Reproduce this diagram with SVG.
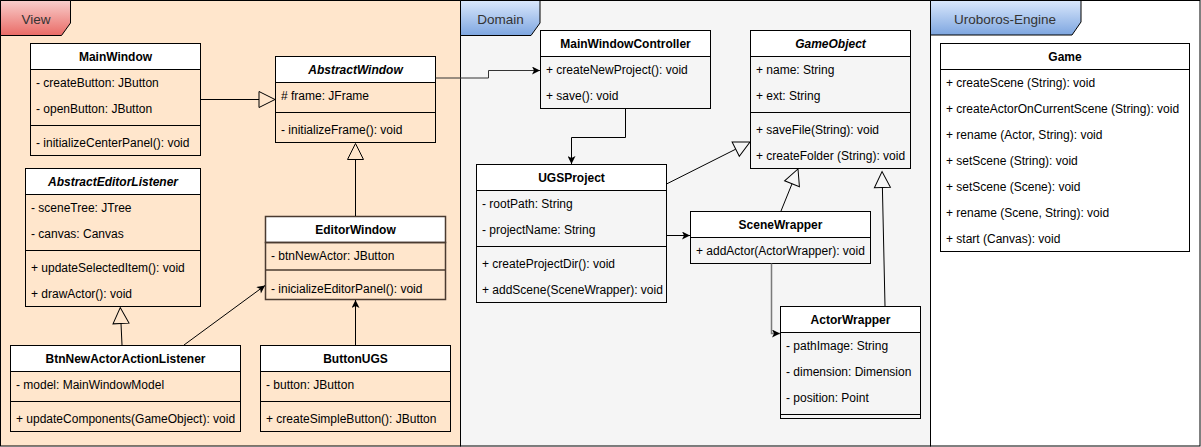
<svg xmlns="http://www.w3.org/2000/svg" width="1201" height="447" viewBox="0 0 1201 447">
<defs>
<linearGradient id="gRed" x1="0" y1="0" x2="0" y2="1"><stop offset="0" stop-color="#f8cecc"/><stop offset="1" stop-color="#ea6b66"/></linearGradient>
<linearGradient id="gBlue" x1="0" y1="0" x2="0" y2="1"><stop offset="0" stop-color="#dae8fc"/><stop offset="1" stop-color="#7ea6e0"/></linearGradient>
<marker id="arr" markerUnits="userSpaceOnUse" viewBox="0 0 10 10" refX="10" refY="5" markerWidth="9" markerHeight="8" orient="auto"><path d="M0,0 L10,5 L0,10 L2.5,5 z" fill="#000"/></marker>
<marker id="arrG" markerUnits="userSpaceOnUse" viewBox="0 0 10 10" refX="10" refY="5" markerWidth="9" markerHeight="8" orient="auto"><path d="M0,0 L10,5 L0,10 L2.5,5 z" fill="#000"/></marker>
<marker id="gen" markerUnits="userSpaceOnUse" viewBox="-1 -1 18 18" refX="0" refY="8" markerWidth="18" markerHeight="18" orient="auto" overflow="visible"><path d="M0,0 L16,8 L0,16 z" fill="none" stroke="#000" stroke-width="1"/></marker>
</defs>
<style>
.frame{stroke:#000;stroke-width:1}
.tab{stroke:#000;stroke-width:1}
.ft{font-family:"Liberation Sans",Arial,sans-serif;font-size:13.5px;fill:#333;text-anchor:middle}
.hd{fill:#fff;stroke:#000;stroke-width:1}
.bd{fill:none;stroke:#000;stroke-width:1}
.dv{stroke:#000;stroke-width:1}
.h{font-family:"Liberation Sans",Arial,sans-serif;font-size:12px;font-weight:bold;fill:#000;text-anchor:middle}
.hi{font-style:italic}
.r{font-family:"Liberation Sans",Arial,sans-serif;font-size:12px;fill:#000}
.ew{stroke:#4a3b30;stroke-width:1.5}
.c{fill:none;stroke:#000;stroke-width:1}
</style>

<g id="frame-view">
<rect class="frame" x="0.5" y="0.5" width="460" height="445.5" fill="#ffe6cc"/>
<path class="tab" d="M0.5,0.5 H70.5 V23 L61.5,35.5 H0.5 Z" fill="url(#gRed)"/>
<text class="ft" x="36" y="24">View</text>
</g>
<g id="frame-domain">
<rect class="frame" x="460.5" y="0.5" width="470" height="445.5" fill="#f5f5f5"/>
<path class="tab" d="M460.5,0.5 H540 V23 L531,35.5 H460.5 Z" fill="url(#gBlue)"/>
<text class="ft" x="500.5" y="24">Domain</text>
</g>
<g id="frame-uroboros">
<rect class="frame" x="930.5" y="0.5" width="269.5" height="445.5" fill="#fff"/>
<path class="tab" d="M930.5,0.5 H1081 V22 L1072,35 H930.5 Z" fill="url(#gBlue)"/>
<text class="ft" x="1005" y="24">Uroboros-Engine</text>
</g>

<g id="MainWindow">
<rect class="hd" x="30.5" y="43.5" width="170" height="26"/>
<rect class="bd" x="30.5" y="69.5" width="170" height="86"/>
<line class="dv" x1="30.5" y1="125.5" x2="200.5" y2="125.5"/>
<text class="h" x="115.5" y="61">MainWindow</text>
<text class="r" x="36" y="87">- createButton: JButton</text>
<text class="r" x="36" y="113">- openButton: JButton</text>
<text class="r" x="36" y="147">- initializeCenterPanel(): void</text>
</g>

<g id="AbstractWindow">
<rect class="hd" x="275.5" y="56.5" width="160" height="26"/>
<rect class="bd" x="275.5" y="82.5" width="160" height="60"/>
<line class="dv" x1="275.5" y1="112.5" x2="435.5" y2="112.5"/>
<text class="h hi" x="355.5" y="74">AbstractWindow</text>
<text class="r" x="281" y="100"># frame: JFrame</text>
<text class="r" x="281" y="134">- initializeFrame(): void</text>
</g>

<g id="AbstractEditorListener">
<rect class="hd" x="25.5" y="168.5" width="175" height="26"/>
<rect class="bd" x="25.5" y="194.5" width="175" height="112"/>
<line class="dv" x1="25.5" y1="250.5" x2="200.5" y2="250.5"/>
<text class="h hi" x="113" y="186">AbstractEditorListener</text>
<text class="r" x="31" y="212">- sceneTree: JTree</text>
<text class="r" x="31" y="238">- canvas: Canvas</text>
<text class="r" x="31" y="272">+ updateSelectedItem(): void</text>
<text class="r" x="31" y="298">+ drawActor(): void</text>
</g>

<g id="EditorWindow">
<rect x="265.5" y="216.5" width="180" height="26" fill="#fff" class="ew"/>
<rect x="265.5" y="242.5" width="180" height="57" fill="none" class="ew"/>
<line class="ew" x1="265.5" y1="270" x2="445.5" y2="270" stroke-width="2"/>
<text class="h" x="355.5" y="234">EditorWindow</text>
<text class="r" x="271" y="260">- btnNewActor: JButton</text>
<text class="r" x="271" y="293">- inicializeEditorPanel(): void</text>
</g>

<g id="BtnNewActorActionListener">
<rect class="hd" x="10.5" y="345.5" width="230" height="26"/>
<rect class="bd" x="10.5" y="371.5" width="230" height="60"/>
<line class="dv" x1="10.5" y1="401.5" x2="240.5" y2="401.5"/>
<text class="h" x="125.5" y="363">BtnNewActorActionListener</text>
<text class="r" x="16" y="389">- model: MainWindowModel</text>
<text class="r" x="16" y="423">+ updateComponents(GameObject): void</text>
</g>

<g id="ButtonUGS">
<rect class="hd" x="260.5" y="345.5" width="190" height="26"/>
<rect class="bd" x="260.5" y="371.5" width="190" height="60"/>
<line class="dv" x1="260.5" y1="401.5" x2="450.5" y2="401.5"/>
<text class="h" x="355.5" y="363">ButtonUGS</text>
<text class="r" x="266" y="389">- button: JButton</text>
<text class="r" x="266" y="423">+ createSimpleButton(): JButton</text>
</g>

<g id="MainWindowController">
<rect class="hd" x="540.5" y="30.5" width="170" height="26"/>
<rect class="bd" x="540.5" y="56.5" width="170" height="52"/>
<text class="h" x="625.5" y="48">MainWindowController</text>
<text class="r" x="546" y="74">+ createNewProject(): void</text>
<text class="r" x="546" y="100">+ save(): void</text>
</g>

<g id="GameObject">
<rect class="hd" x="750.5" y="30.5" width="160" height="26"/>
<rect class="bd" x="750.5" y="56.5" width="160" height="112"/>
<line class="dv" x1="750.5" y1="112.5" x2="910.5" y2="112.5"/>
<text class="h hi" x="830.5" y="48">GameObject</text>
<text class="r" x="756" y="74">+ name: String</text>
<text class="r" x="756" y="100">+ ext: String</text>
<text class="r" x="756" y="134">+ saveFile(String): void</text>
<text class="r" x="756" y="160">+ createFolder (String): void</text>
</g>

<g id="UGSProject">
<rect class="hd" x="476.5" y="164.5" width="190" height="26"/>
<rect class="bd" x="476.5" y="190.5" width="190" height="112"/>
<line class="dv" x1="476.5" y1="246.5" x2="666.5" y2="246.5"/>
<text class="h" x="571.5" y="182">UGSProject</text>
<text class="r" x="482" y="208">- rootPath: String</text>
<text class="r" x="482" y="234">- projectName: String</text>
<text class="r" x="482" y="268">+ createProjectDir(): void</text>
<text class="r" x="482" y="294">+ addScene(SceneWrapper): void</text>
</g>

<g id="SceneWrapper">
<rect class="hd" x="690.5" y="211.5" width="180" height="26"/>
<rect class="bd" x="690.5" y="237.5" width="180" height="26"/>
<text class="h" x="780.5" y="229">SceneWrapper</text>
<text class="r" x="696" y="255">+ addActor(ActorWrapper): void</text>
</g>

<g id="ActorWrapper">
<rect class="hd" x="780.5" y="306.5" width="140" height="26"/>
<rect class="bd" x="780.5" y="332.5" width="140" height="86"/>
<line class="dv" x1="780.5" y1="414.5" x2="920.5" y2="414.5"/>
<text class="h" x="850.5" y="324">ActorWrapper</text>
<text class="r" x="786" y="350">- pathImage: String</text>
<text class="r" x="786" y="376">- dimension: Dimension</text>
<text class="r" x="786" y="402">- position: Point</text>
</g>

<g id="Game">
<rect class="hd" x="940.5" y="43.5" width="249" height="26"/>
<rect class="bd" x="940.5" y="69.5" width="249" height="182"/>
<text class="h" x="1065" y="61">Game</text>
<text class="r" x="946" y="87">+ createScene (String): void</text>
<text class="r" x="946" y="113">+ createActorOnCurrentScene (String): void</text>
<text class="r" x="946" y="139">+ rename (Actor, String): void</text>
<text class="r" x="946" y="165">+ setScene (String): void</text>
<text class="r" x="946" y="191">+ setScene (Scene): void</text>
<text class="r" x="946" y="217">+ rename (Scene, String): void</text>
<text class="r" x="946" y="243">+ start (Canvas): void</text>
</g>

<g id="connectors">
<path class="c" d="M200.5,99.5 L259,99.5" marker-end="url(#gen)"/>
<path class="c" d="M355.5,216 L355.5,159.5" marker-end="url(#gen)"/>
<path class="c" d="M122,345 L121,323.5" marker-end="url(#gen)"/>
<path class="c" d="M666.5,184 L735.7,149.2" marker-end="url(#gen)"/>
<path class="c" d="M781,211 L792,183.8" marker-end="url(#gen)"/>
<path class="c" d="M885,306 L882.4,187.5" marker-end="url(#gen)"/>
<path class="c" d="M435.5,78 H488.5 V70.5 H540" stroke="#333" style="stroke:#333" marker-end="url(#arr)"/>
<path class="c" d="M625.5,108.5 V137.5 H571.5 V164" marker-end="url(#arr)"/>
<path class="c" d="M666.5,235.5 H690" marker-end="url(#arr)"/>
<path class="c" d="M771.5,263.5 V333.5 H780" style="stroke:#7a7a7a;stroke-width:1.5" marker-end="url(#arrG)"/>
<path class="c" d="M184,345 L265,285.5" marker-end="url(#arr)"/>
<path class="c" d="M355.5,345 V300" marker-end="url(#arr)"/>
</g>
</svg>
